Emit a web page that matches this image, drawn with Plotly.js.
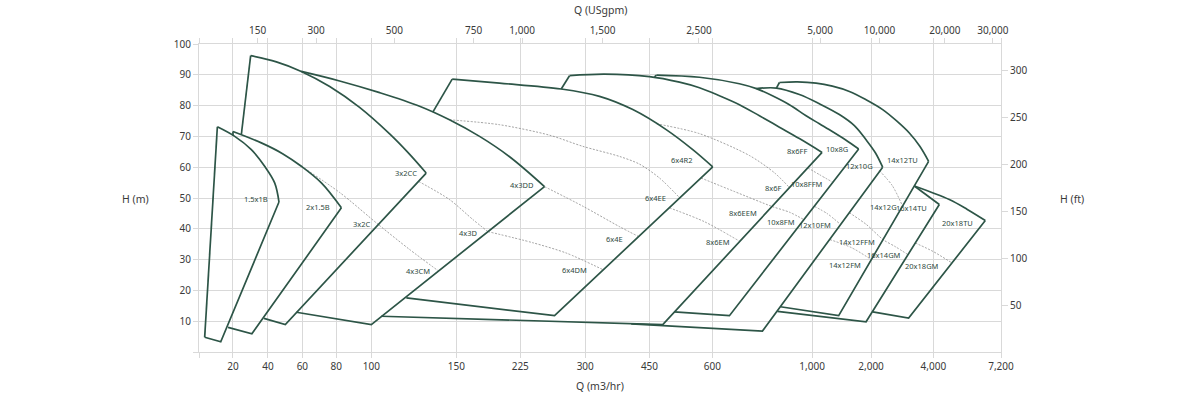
<!DOCTYPE html>
<html><head><meta charset="utf-8">
<script src="https://cdn.plot.ly/plotly-3.0.1.min.js"></script>
<style>html,body{margin:0;padding:0;background:#fff}#chart{width:1200px;height:397px}</style>
</head><body><div id="chart"></div>
<script>
// ---------- axis scale (custom warped Q axis, m3/hr) ----------
const AXIS_Q      = [0, 20, 40, 60, 80, 100, 150, 225, 300, 450, 600, 1000, 2000, 4000, 7200];
const AXIS_LABELS = ['', '20', '40', '60', '80', '100', '150', '225', '300', '450', '600', '1,000', '2,000', '4,000', '7,200'];
const AXIS_POS    = [0, 34, 69, 103.4, 137.4, 172.4, 257.4, 321.4, 386.4, 450.7, 513.7, 613.4, 672.4, 734.7, 802.4];
const GPM_TICKS   = [150, 300, 500, 750, 1000, 1500, 2500, 5000, 10000, 20000, 30000];
const GPM_LABELS  = ['150', '300', '500', '750', '1,000', '1,500', '2,500', '5,000', '10,000', '20,000', '30,000'];
const H_M_TICKS   = [0, 10, 20, 30, 40, 50, 60, 70, 80, 90, 100];
const H_M_LABELS  = ['', '10', '20', '30', '40', '50', '60', '70', '80', '90', '100'];
const H_FT_TICKS  = [50, 100, 150, 200, 250, 300];

// ---------- pump envelopes: Q (m3/hr), H (m) ----------
const P1_Q = [3.35, 10.8, 21.0, 30.5, 38.1, 43.9, 46.4, 12.8, 3.35];
const P1_H = [4.8, 73.1, 70.0, 65.7, 60.3, 54.9, 48.7, 3.3, 4.8];
const P2_Q = [20.0, 20.0, 36.2, 48.5, 59.4, 71.2, 82.9, 30.8, 17.1];
const P2_H = [70.3, 71.6, 67.9, 64.4, 60.3, 54.9, 46.8, 5.9, 8.0];
const P3_Q = [24.8, 30.1, 44.9, 59.4, 76.1, 93.3, 110.8, 121.5, 132.3, 50.1, 37.7];
const P3_H = [70.7, 96.2, 94.2, 91.1, 86.2, 79.4, 70.8, 64.8, 58.1, 8.9, 10.9];
const P4_Q = [59.4, 81.9, 104.9, 128.4, 146.0, 177.3, 212.5, 253.0, 100, 56.5];
const P4_H = [91.1, 88.0, 84.2, 79.8, 75.4, 70.0, 63.4, 53.7, 8.9, 12.9];
const P6_Q = [136.2, 147.6, 200.7, 272.3, 333.4, 411.1, 489.8, 553.1, 601.2, 264.6, 120.6];
const P6_H = [77.9, 88.6, 87.3, 85.4, 83.0, 78.7, 72.2, 65.7, 60.1, 11.8, 17.6];
const P8_Q = [272.3, 281.9, 345.0, 450, 521.4, 569.1, 628.1, 708.3, 788.6, 868.8, 949.0, 1169.5, 481.7, 105.9];
const P8_H = [85.4, 89.7, 90.2, 89.4, 87.6, 85.8, 83.2, 80.3, 76.7, 73.0, 69.3, 64.8, 8.9, 11.6];
const P10_Q = [461.9, 466.7, 569.1, 708.3, 776.5, 840.7, 908.9, 975.9, 1123.7, 1349.2, 1564.4, 1789.9, 668.2, 508.8];
const P10_H = [89.3, 89.9, 89.2, 87.1, 85.5, 83.2, 80.3, 76.7, 74.1, 71.5, 68.9, 65.9, 11.8, 13.0];
const P12_Q = [776.5, 856.8, 949.0, 1123.7, 1462.7, 1717, 1915.3, 2138, 2372.4, 800.6, 407.3];
const P12_H = [85.5, 85.7, 83.6, 80.6, 77.1, 73.5, 68.9, 64.7, 60.0, 6.8, 9.1];
const P14_Q = [856.8, 868.8, 941, 1067.8, 1344, 1632.2, 1915.3, 2372.4, 2812, 3229.4, 3566, 3849, 1450.9, 872.8];
const P14_H = [85.7, 87.5, 87.7, 87.3, 86.3, 84.6, 81.9, 78.7, 75.1, 71.1, 66.8, 61.9, 11.8, 14.7];
const P16_Q = [3390, 4283.6, 1915.3, 860.8];
const P16_H = [53.9, 47.9, 9.8, 13.2];
const P20_Q = [3390, 4756.3, 5607, 6458, 3207, 2051.4];
const P20_H = [53.9, 49.5, 46.3, 42.7, 11.0, 13.0];
// index span of the (curved) head-capacity part in each envelope above
const CURVE_SPANS = [[1, 6], [1, 6], [1, 8], [0, 7], [1, 8], [1, 11], [1, 11], [0, 8], [1, 11], [0, 1], [0, 3]];

// ---------- trim / model boundary curves (dotted) ----------
const D1_Q = [59.4, 81.9, 104.1, 122.5, 139.3];        const D1_H = [60.3, 51.8, 41.4, 33.3, 26.4];
const D2_Q = [127.8, 146.0, 169.5, 187.0];             const D2_H = [55.4, 49.5, 43.0, 39.1];
const D3_Q = [187.0, 239.2, 278.4, 340.4];             const D3_H = [39.1, 35.5, 32.1, 26.8];
const D4_Q = [253.0, 296.9, 380.0, 424.4];             const D4_H = [53.7, 47.4, 40.7, 37.5];
const D5_Q = [146.0, 200.7, 258.8, 296.9, 380.0, 426.7, 473.8, 522.4];
const D5_H = [75.4, 73.8, 70.4, 66.8, 63.5, 61.0, 56.5, 50.0];
const D6_Q = [572.6, 688.3, 840.7, 908.9, 966.7];      const D6_H = [56.5, 52.1, 47.2, 45.4, 43.0];
const D7_Q = [497.6, 581.0, 708.3];                    const D7_H = [46.8, 42.3, 36.0];
const D8_Q = [466.7, 569.1, 748.4, 848.7, 908.9];      const D8_H = [74.1, 70.9, 63.8, 58.2, 53.4];
const D9_Q = [982.3, 1123.7, 1350.9];                  const D9_H = [59.8, 57.6, 55.1];
const D11_Q = [1039, 1259.3, 1483.1];                  const D11_H = [47.3, 44.9, 41.4];
const D12_Q = [2266.4, 2683.7, 3014.4];                const D12_H = [58.9, 54.0, 47.3];
const D13_Q = [1632.2, 1920.4, 2385.2, 2780, 3187.7];  const D13_H = [45.2, 41.4, 36.5, 34.2, 31.6];
const D14_Q = [1301.7, 1666.1, 2009.6];                const D14_H = [36.5, 33.9, 30.0];
const D16_Q = [3422, 4000, 4884];                      const D16_H = [35.4, 32.6, 28.9];

// ---------- model labels (text ends at Q, H) ----------
const LABEL_TEXT = ['1.5x1B','2x1.5B','3x2CC','3x2C','4x3DD','4x3D','4x3CM','6x4DM','6x4E','6x4EE','6x4R2',
  '8x6EM','8x6EEM','8x6F','8x6FF','10x8FFM','10x8FM','10x8G','12x10G','12x10FM','14x12TU','14x12G','16x14TU',
  '14x12FFM','16x14GM','14x12FM','20x18TU','20x18GM'];
const LABEL_Q = [41.0, 77.2, 128.0, 100.9, 243.5, 178.1, 135.6, 310.0, 392.4, 495.2, 559.5,
  677.4, 785.8, 888.9, 989.2, 1225.4, 938.2, 1649.2, 2138, 1361, 3582.5, 2908.4, 3871.4,
  2179.8, 3014.4, 1857.7, 5985.3, 4364];
const LABEL_H = [49.7, 47.1, 58.1, 41.7, 54.1, 38.5, 26.3, 26.5, 36.6, 50.0, 62.4,
  35.6, 45.0, 53.3, 65.1, 54.6, 42.2, 65.8, 60.3, 41.3, 62.4, 47.2, 46.8,
  35.6, 31.4, 28.3, 42.0, 27.8];

// ---------- scale helper ----------
function qToPos(q) {
  for (let i = 1; i < AXIS_Q.length; i++) {
    if (q <= AXIS_Q[i] || i === AXIS_Q.length - 1) {
      const f = (q - AXIS_Q[i-1]) / (AXIS_Q[i] - AXIS_Q[i-1]);
      return AXIS_POS[i-1] + f * (AXIS_POS[i] - AXIS_POS[i-1]);
    }
  }
}
const M3H_PER_GPM = 1 / 4.40287;
const FT_PER_M = 1 / 0.3048;

const GREEN = '#2d5547';
const GRID = '#d9d9d9';
const FONT = 'Noto Sans, Lato, sans-serif';

const envelopes = [[P1_Q,P1_H],[P2_Q,P2_H],[P3_Q,P3_H],[P4_Q,P4_H],[P6_Q,P6_H],[P8_Q,P8_H],
  [P10_Q,P10_H],[P12_Q,P12_H],[P14_Q,P14_H],[P16_Q,P16_H],[P20_Q,P20_H]];
const dotted = [[D1_Q,D1_H],[D2_Q,D2_H],[D3_Q,D3_H],[D4_Q,D4_H],[D5_Q,D5_H],[D6_Q,D6_H],[D7_Q,D7_H],
  [D8_Q,D8_H],[D9_Q,D9_H],[D11_Q,D11_H],[D12_Q,D12_H],[D13_Q,D13_H],[D14_Q,D14_H],[D16_Q,D16_H]];

const traces = [];
dotted.forEach(([q,h]) => traces.push({
  x: q.map(qToPos), y: h, mode: 'lines',
  line: {color: '#8a8a8a', width: 0.8, dash: '2px,1.5px', shape: 'spline', smoothing: 0.8},
  hoverinfo: 'skip', showlegend: false
}));
function addPart(q, h, a, b, shape) {
  if (b - a < 1) return;
  traces.push({
    x: q.slice(a, b + 1).map(qToPos), y: h.slice(a, b + 1), mode: 'lines',
    line: {color: GREEN, width: 1.7, shape: shape, smoothing: 1},
    hoverinfo: 'skip', showlegend: false
  });
}
envelopes.forEach(([q,h], k) => {
  const [a, b] = CURVE_SPANS[k];
  addPart(q, h, 0, a, 'linear');
  addPart(q, h, a, b, 'spline');
  addPart(q, h, b, q.length - 1, 'linear');
});
// invisible trace to anchor secondary axes
traces.push({x: [0], y: [0], xaxis: 'x2', yaxis: 'y2', mode: 'markers', marker: {opacity: 0}, hoverinfo: 'skip', showlegend: false});

const annotations = LABEL_TEXT.map((t, i) => ({
  text: t, x: qToPos(LABEL_Q[i]), y: LABEL_H[i], xref: 'x', yref: 'y',
  xanchor: 'right', yanchor: 'middle', showarrow: false,
  font: {family: FONT, size: 7.5, color: '#2f4a42'}
}));
const titleFont = {family: FONT, size: 10.5, color: '#3a3a3a'};
annotations.push({text: 'H (m)', xref: 'paper', yref: 'paper', x: -0.06, y: 0.498, xanchor: 'right', yanchor: 'middle', showarrow: false, font: titleFont});
annotations.push({text: 'H (ft)', xref: 'paper', yref: 'paper', x: 1.071, y: 0.498, xanchor: 'left', yanchor: 'middle', showarrow: false, font: titleFont});
annotations.push({text: 'Q (m3/hr)', xref: 'paper', yref: 'paper', x: 0.5, y: -0.112, xanchor: 'center', yanchor: 'middle', showarrow: false, font: titleFont});
annotations.push({text: 'Q (USgpm)', xref: 'paper', yref: 'paper', x: 0.5, y: 1.111, xanchor: 'center', yanchor: 'middle', showarrow: false, font: titleFont});

const tickFont = {family: FONT, size: 10, color: '#3a3a3a'};
const xRange = [0, AXIS_POS[AXIS_POS.length - 1]];
const layout = {
  width: 1200, height: 397,
  margin: {l: 199, r: 199, t: 44, b: 45},
  paper_bgcolor: '#ffffff', plot_bgcolor: '#ffffff',
  showlegend: false, hovermode: false,
  xaxis: {range: xRange, autorange: false, tickmode: 'array', tickvals: AXIS_POS, ticktext: AXIS_LABELS,
    showgrid: true, gridcolor: GRID, gridwidth: 1, zeroline: false,
    showline: true, linecolor: GRID, linewidth: 1, mirror: 'ticks',
    ticks: 'outside', ticklen: 5, tickcolor: GRID, tickfont: tickFont},
  yaxis: {range: [0, 100], autorange: false, tickmode: 'array', tickvals: H_M_TICKS, ticktext: H_M_LABELS,
    showgrid: true, gridcolor: GRID, gridwidth: 1, zeroline: false,
    showline: true, linecolor: GRID, linewidth: 1, mirror: true,
    ticks: 'outside', ticklen: 5, tickcolor: GRID, tickfont: tickFont},
  xaxis2: {overlaying: 'x', side: 'top', range: xRange, autorange: false, tickmode: 'array',
    tickvals: GPM_TICKS.map(g => qToPos(g * M3H_PER_GPM)), ticktext: GPM_LABELS,
    showgrid: false, zeroline: false, showline: false,
    ticks: 'outside', ticklen: 5, tickcolor: GRID, tickfont: tickFont},
  yaxis2: {overlaying: 'y', side: 'right', range: [0, 100 * FT_PER_M], autorange: false, tickmode: 'array',
    tickvals: H_FT_TICKS, ticktext: H_FT_TICKS.map(String),
    showgrid: false, zeroline: false, showline: false,
    ticks: 'outside', ticklen: 6, tickcolor: GRID, tickfont: tickFont},
  annotations: annotations
};
Plotly.newPlot('chart', traces, layout, {displayModeBar: false, staticPlot: true});
</script>
</body></html>
